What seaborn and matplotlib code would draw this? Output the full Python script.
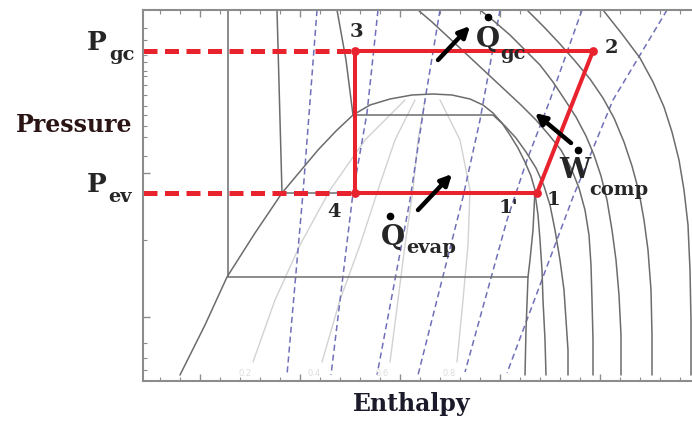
import matplotlib
matplotlib.use("Agg")
import matplotlib.pyplot as plt
from matplotlib.ticker import FixedLocator, MultipleLocator
import seaborn as sns

# ---- schematic P-h diagram of a transcritical CO2 cycle (arbitrary units) ----
# saturation dome
dome_h = [80, 105, 127, 155, 182, 218, 236, 253, 270, 290, 312, 333, 352, 370, 383, 393,
          402, 410, 418, 425, 431, 435, 434, 433, 430, 428, 426, 425]
dome_p = [25, 75, 123, 167, 207, 250, 269, 285, 295, 301, 305, 306, 305, 301, 295, 287,
          277, 265, 252, 238, 224, 210, 190, 170, 140, 123, 70, 25]

# isotherms (liquid branch, two-phase plateau, vapour branch)
iso_h = [
    [128, 128, 428],
    [177, 182, 435, 438, 440, 442, 443, 445, 446],
    [237, 246, 253, 393, 405, 416, 426, 436, 444, 450, 455, 460, 464, 466, 468, 468],
    [318, 332, 346, 361, 376, 391, 406, 421, 436, 449, 461, 471, 479, 485, 489, 491, 492,
     493, 493],
    [380, 395, 410, 425, 440, 453, 465, 476, 486, 494, 501, 507, 512, 516, 519, 521, 521],
    [427, 444, 460, 475, 490, 503, 514, 524, 532, 539, 544, 548, 551, 552, 552],
    [503, 522, 540, 553, 564, 572, 579, 584, 588, 590, 591, 591],
]
iso_p = [
    [390, 123, 123],
    [390, 207, 207, 185, 160, 130, 100, 60, 25],
    [390, 340, 285, 285, 274, 262, 248, 232, 214, 195, 170, 140, 110, 80, 50, 25],
    [390, 378, 365, 351, 337, 323, 309, 295, 280, 265, 250, 232, 212, 190, 165, 135, 100,
     60, 25],
    [390, 378, 365, 350, 335, 318, 300, 283, 264, 245, 224, 200, 170, 140, 105, 65, 25],
    [390, 373, 356, 339, 321, 302, 282, 258, 234, 208, 180, 150, 110, 65, 25],
    [390, 366, 342, 318, 293, 268, 240, 210, 175, 130, 80, 25],
]

# isentropes
ise_h = [
    [217, 203, 187],
    [278, 267, 253, 231],
    [340, 325, 310, 277],
    [400, 380, 363, 318],
    [482, 450, 427, 407, 365],
    [567, 540, 513, 473, 407],
]
ise_p = [
    [390, 207, 25],
    [390, 287, 207, 25],
    [390, 300, 200, 25],
    [390, 280, 203, 25],
    [390, 300, 240, 180, 28],
    [390, 345, 300, 203, 27],
]

# constant-quality lines inside the dome
qual_labels = ["0.2", "0.4", "0.6", "0.8"]
qual_h = [
    [153, 175, 200, 230, 265, 305],
    [222, 240, 260, 278, 295, 315],
    [290, 298, 305, 313, 318, 325],
    [357, 363, 368, 370, 360, 340],
]
qual_p = [
    [38, 100, 155, 210, 260, 300],
    [38, 100, 155, 210, 260, 300],
    [38, 100, 155, 210, 260, 300],
    [38, 100, 155, 210, 260, 300],
]

# cycle states: 4 -> 1' -> 1 -> 2 -> 3 -> 4
cycle_names = ["4", "1'", "1", "2", "3"]
cycle_h = [255, 434, 437, 493, 255]
cycle_p = [207, 207, 207, 349, 349]
p_gc = 349
p_ev = 207

# ---------------------------------------------------------------------------
sns.set_theme(style="white")
plt.rcParams["font.family"] = ["DejaVu Serif"]

fig = plt.figure(figsize=(6.92, 4.21), dpi=100)
ax = fig.add_axes([143 / 692, 40 / 421, 552 / 692, 371 / 421])
ax.set_xlim(43, 595)
ax.set_ylim(19, 390)

GRAY = "#6c6c6c"
LIGHT = "#d2d2d2"
BLUE = "#7070b8"
RED = "#e8232e"

for h, p in zip(qual_h, qual_p):
    sns.lineplot(x=h, y=p, sort=False, estimator=None, color=LIGHT, lw=1.0, ax=ax)
for lab, h in zip(qual_labels, qual_h):
    ax.text(h[0] - 8, 27, lab, color="#dcdcdc", fontsize=6, ha="center", va="center",
            family="DejaVu Sans")

for h, p in zip(ise_h, ise_p):
    sns.lineplot(x=h, y=p, sort=False, estimator=None, color=BLUE, lw=1.1,
                 dashes=False, linestyle=(0, (4, 2.5)), ax=ax)

sns.lineplot(x=dome_h, y=dome_p, sort=False, estimator=None, color=GRAY, lw=1.1, ax=ax)
for h, p in zip(iso_h, iso_p):
    sns.lineplot(x=h, y=p, sort=False, estimator=None, color=GRAY, lw=1.1, ax=ax)

# pressure levels extended to the axis
for lvl in (p_gc, p_ev):
    sns.lineplot(x=[ax.get_xlim()[0], cycle_h[0]], y=[lvl, lvl], color=RED, lw=3.6,
                 linestyle=(0, (2.8, 1.5)), ax=ax, clip_on=False)

# the cycle itself
loop_h = cycle_h + [cycle_h[0]]
loop_p = cycle_p + [cycle_p[0]]
sns.lineplot(x=loop_h, y=loop_p, sort=False, estimator=None, color=RED, lw=2.9, ax=ax,
             zorder=5)
mark_h = [cycle_h[i] for i in (0, 2, 3, 4)]
mark_p = [cycle_p[i] for i in (0, 2, 3, 4)]
sns.scatterplot(x=mark_h, y=mark_p, color=RED, s=40, edgecolor=RED, linewidth=0,
                ax=ax, zorder=6)

# state labels
lab_fs = 14
ax.text(256, 368, "3", fontsize=lab_fs, weight="bold", ha="center", va="center")
ax.text(511, 352, "2", fontsize=lab_fs, weight="bold", ha="center", va="center")
ax.text(453, 200, "1", fontsize=lab_fs, weight="bold", ha="center", va="center")
ax.text(408, 192, "1'", fontsize=lab_fs, weight="bold", ha="center", va="center")
ax.text(234, 188, "4", fontsize=lab_fs, weight="bold", ha="center", va="center")

# heat and work arrows
arrow = dict(arrowstyle="-|>", lw=3.2, color="black", mutation_scale=16,
             shrinkA=0, shrinkB=0)
ax.annotate("", xy=(370, 374), xytext=(338, 340), arrowprops=arrow, zorder=7)
ax.annotate("", xy=(435, 287), xytext=(471, 257), arrowprops=arrow, zorder=7)
ax.annotate("", xy=(352, 226), xytext=(318, 190), arrowprops=arrow, zorder=7)

sym_fs = 20
sub_fs = 14
ax.text(388, 361, "Q", fontsize=sym_fs, weight="bold", ha="center", va="center", zorder=8)
ax.text(413, 346, "gc", fontsize=sub_fs, weight="bold", ha="center", va="center", zorder=8)
ax.text(293, 163, "Q", fontsize=sym_fs, weight="bold", ha="center", va="center", zorder=8)
ax.text(331, 152, "evap", fontsize=sub_fs, weight="bold", ha="center", va="center", zorder=8)
ax.text(475, 230, "W", fontsize=sym_fs, weight="bold", ha="center", va="center", zorder=8)
ax.text(519, 210, "comp", fontsize=sub_fs, weight="bold", ha="center", va="center", zorder=8)
ax.plot([388, 290, 478], [383, 184, 250], "o", color="black", ms=4.5, zorder=8)

# axis labels and pressure-level names
ax.text(-26, 275, "Pressure", fontsize=17, weight="bold", ha="center", va="center",
        color="#2a1414")
ax.text(312, -4, "Enthalpy", fontsize=17, weight="bold", ha="center", va="center",
        color="#1a1a2a")
ax.text(-3, p_gc + 8, "P", fontsize=19, weight="bold", ha="center", va="center")
ax.text(22, p_gc - 4, "gc", fontsize=14, weight="bold", ha="center", va="center")
ax.text(-3, p_ev + 8, "P", fontsize=19, weight="bold", ha="center", va="center")
ax.text(20, p_ev - 4, "ev", fontsize=14, weight="bold", ha="center", va="center")

# frame and inward ticks
for side in ("left", "bottom", "top", "right"):
    ax.spines[side].set_color("#8c8c8c")
    ax.spines[side].set_linewidth(1.5)
ax.xaxis.set_major_locator(MultipleLocator(100))
ax.xaxis.set_minor_locator(MultipleLocator(20))
ax.yaxis.set_major_locator(FixedLocator([83, 227]))
ax.yaxis.set_minor_locator(FixedLocator([30, 42, 57, 160, 244, 263, 274, 285, 294, 305,
                                         315, 324, 329, 338, 345, 360, 372]))
ax.tick_params(which="both", direction="in", color="#8c8c8c", labelbottom=False,
               labelleft=False, top=True, right=False, bottom=True, left=True)
ax.tick_params(which="major", length=5, width=1)
ax.tick_params(which="minor", length=3, width=0.8)
ax.set_xlabel("")
ax.set_ylabel("")

fig.savefig("out.png", dpi=100)
